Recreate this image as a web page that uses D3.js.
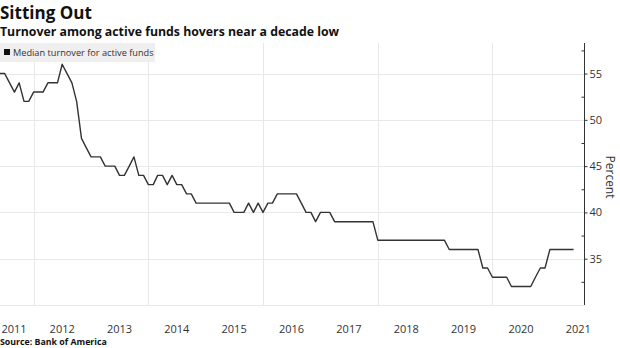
<!DOCTYPE html>
<html><head><meta charset="utf-8">
<script src="https://cdn.jsdelivr.net/npm/d3@7"></script>
<style>
html,body{margin:0;padding:0;background:#fff;}
svg{display:block;font-family:"Open Sans","DejaVu Sans",sans-serif;}
</style></head>
<body>
<svg id="chart" width="620" height="348"></svg>
<script>
// ---- data ----
const title = "Sitting Out";
const subtitle = "Turnover among active funds hovers near a decade low";
const source = "Source: Bank of America";
const seriesName = "Median turnover for active funds";
const startMonth = "2011-06";
// monthly median turnover (percent), Jun 2011 .. Jun 2021
const turnover = [
  55,55,54,53,54,52,52,53,53,53,54,54,54,56,55,54,52,48,47,46,
  46,46,45,45,45,44,44,45,46,44,44,43,43,44,44,43,44,43,43,42,
  42,41,41,41,41,41,41,41,41,40,40,40,41,40,41,40,41,41,42,42,
  42,42,42,41,40,40,39,40,40,40,39,39,39,39,39,39,39,39,39,37,
  37,37,37,37,37,37,37,37,37,37,37,37,37,37,36,36,36,36,36,36,
  36,34,34,33,33,33,33,32,32,32,32,32,33,34,34,36,36,36,36,36,36
];
const yTicks = [35,40,45,50,55];
const yGrid = [30,35,40,45,50,55];
const yMinor = [32.5,37.5,42.5,47.5,52.5,57.5];
const xLabels = ["2011","2012","2013","2014","2015","2016","2017","2018","2019","2020","2021"];
const xGridYears = ["2012","2014","2016","2018","2020"];

// ---- chart ----
const svg = d3.select("#chart");
const parseM = d3.timeParse("%Y-%m");
const start = parseM(startMonth);
const data = turnover.map((v,i)=>({date:d3.timeMonth.offset(start,i), v}));

const plot = {left:0, right:584.5, top:43, bottom:305};
const x = d3.scaleTime()
  .domain([new Date(2011,5,1), new Date(2021,5,1)])
  .range([0, 573.6]);
const y = d3.scaleLinear().domain([30,58.3]).range([plot.bottom, plot.top]);

// title
svg.append("text").attr("x",0).attr("y",19)
  .attr("font-size",17).attr("font-weight",700).attr("fill","#111").text(title);
svg.append("text").attr("x",0).attr("y",36)
  .attr("font-size",12.3).attr("font-weight",700).attr("fill","#111").text(subtitle);

// grid
const g = svg.append("g");
g.selectAll("line.hg").data(yGrid).join("line")
  .attr("x1",plot.left).attr("x2",plot.right)
  .attr("y1",d=>Math.round(y(d))+0.5).attr("y2",d=>Math.round(y(d))+0.5)
  .attr("stroke","#e8e8e8").attr("stroke-width",1);
g.selectAll("line.vg").data(xGridYears).join("line")
  .attr("x1",d=>Math.round(x(new Date(+d,0,1)))+0.5)
  .attr("x2",d=>Math.round(x(new Date(+d,0,1)))+0.5)
  .attr("y1",plot.top).attr("y2",plot.bottom)
  .attr("stroke","#e8e8e8").attr("stroke-width",1);

// legend
const leg = svg.append("g");
leg.append("rect").attr("x",0).attr("y",43).attr("width",155).attr("height",19).attr("fill","#efefef");
leg.append("rect").attr("x",4).attr("y",49).attr("width",6).attr("height",6).attr("fill","#111");
leg.append("text").attr("x",13).attr("y",56).attr("font-size",9.2).attr("fill","#333").text(seriesName);

// right axis
const yAxis = d3.axisRight(y).tickValues(yTicks).tickSize(3).tickPadding(2);
const ax = svg.append("g").attr("transform",`translate(${plot.right},0)`).call(yAxis);
ax.select(".domain").attr("d",`M0,${plot.top}V${plot.bottom}`).attr("stroke","#333");
ax.selectAll(".tick line").attr("stroke","#333");
ax.selectAll(".tick text").attr("font-size",11).attr("fill","#333").attr("font-family","Open Sans, sans-serif");
const minor = d3.axisLeft(y).tickValues(yMinor).tickSize(3).tickFormat("");
const axm = svg.append("g").attr("transform",`translate(${plot.right},0)`).call(minor);
axm.select(".domain").remove();
axm.selectAll(".tick line").attr("stroke","#333");

svg.append("text").attr("transform","translate(606,177) rotate(90)")
  .attr("text-anchor","middle").attr("font-size",12).attr("fill","#333").text("Percent");

// x labels
const xl = svg.append("g");
xl.selectAll("text").data(xLabels).join("text")
  .attr("x",d=>{const c = x(new Date(+d,6,1)); return Math.max(c, 14);})
  .attr("y",333).attr("text-anchor","middle").attr("font-size",11).attr("fill","#333").text(d=>d);

// line
const line = d3.line().x(d=>x(d.date)).y(d=>y(d.v));
svg.append("path").datum(data).attr("d",line).attr("fill","none")
  .attr("stroke","#333").attr("stroke-width",1.4).attr("stroke-linejoin","round");

// source
svg.append("text").attr("x",0).attr("y",345).attr("font-size",8.8).attr("font-weight",700).attr("fill","#111").text(source);
</script>
</body></html>
